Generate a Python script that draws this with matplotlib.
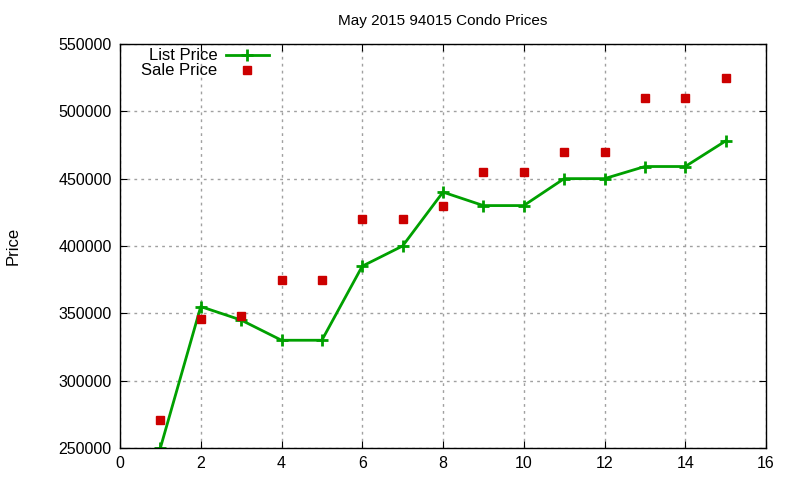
import matplotlib
matplotlib.use("Agg")
import matplotlib.pyplot as plt

plt.rcParams['font.family'] = ['Liberation Sans', 'DejaVu Sans']

# data
months = [1, 2, 3, 4, 5, 6, 7, 8, 9, 10, 11, 12, 13, 14, 15]
list_price = [250000, 355000, 345000, 330000, 330000, 385000, 400000, 440000,
              430000, 430000, 450000, 450000, 459000, 459000, 478000]
sale_price = [271000, 346000, 348000, 375000, 375000, 420000, 420000, 430000,
              455000, 455000, 470000, 470000, 510000, 510000, 525000]
xticks = list(range(0, 17, 2))
yticks = list(range(250000, 550001, 50000))

fig = plt.figure(figsize=(8, 4.8), dpi=100)
ax = fig.add_axes([0.15, 0.0667, 0.8075, 0.8417])

ax.plot(months, list_price, color='#00a000', lw=2, marker='+', ms=8, mew=2,
        label='List Price')
ax.plot(months, sale_price, ls='none', marker='s', ms=5.5, color='#cc0000',
        label='Sale Price')

ax.set_xlim(0, 16)
ax.set_ylim(250000, 550000)
ax.set_xticks(xticks)
ax.set_yticks(yticks)
ax.tick_params(direction='in', top=True, right=True, labelsize=11.5, length=5,
               pad=6)
ax.grid(True, color='#a0a0a0', ls=(0, (2, 3)), lw=1)
for s in ax.spines.values():
    s.set_linewidth(1)

ax.set_title('May 2015 94015 Condo Prices', fontsize=11, pad=14)
ax.set_ylabel('Price', fontsize=12, labelpad=27)

ax.legend(loc='upper left', bbox_to_anchor=(0.015, 1.018), frameon=False,
          markerfirst=False, fontsize=12, handlelength=2.6, labelspacing=0.0,
          handletextpad=0.5, borderaxespad=0.3)

fig.savefig('out.png', dpi=100)
